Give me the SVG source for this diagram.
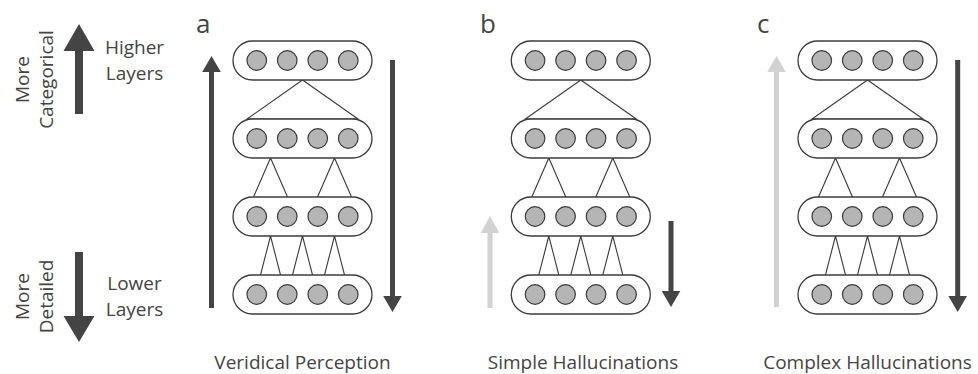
<svg xmlns="http://www.w3.org/2000/svg" width="978" height="374" viewBox="0 0 978 374">
  <defs>
    <style>
      .t { font-family: "Open Sans", "Liberation Sans", sans-serif; font-size: 19px; fill: #444; }
      .lbl { font-family: "Open Sans", "Liberation Sans", sans-serif; font-size: 26px; fill: #444; }
      .pill { fill: #fff; stroke: #3c3c3c; stroke-width: 1.3; }
      .unit { fill: #b5b5b5; stroke: #3c3c3c; stroke-width: 1.2; }
      .link { fill: none; stroke: #3c3c3c; stroke-width: 1.1; stroke-linejoin: miter; }
      .dark { fill: #444; }
      .light { fill: #d2d2d2; }
    </style>
    <g id="layer">
      <rect class="pill" x="0" y="0" width="139" height="39" rx="19.5" ry="19.5"/>
      <circle class="unit" cx="23.75" cy="19.5" r="9.8"/>
      <circle class="unit" cx="54.25" cy="19.5" r="9.8"/>
      <circle class="unit" cx="84.75" cy="19.5" r="9.8"/>
      <circle class="unit" cx="115.25" cy="19.5" r="9.8"/>
    </g>
    <g id="links">
      <polygon class="link" points="69.5,39 14,78 125,78"/>
      <polyline class="link" points="20.5,156 37.5,117 54.5,156"/>
      <polyline class="link" points="84.5,156 101.5,117 118.5,156"/>
      <polyline class="link" points="27.5,234 37.5,195 47.5,234"/>
      <polyline class="link" points="59.5,234 69.5,195 79.5,234"/>
      <polyline class="link" points="91.5,234 101.5,195 111.5,234"/>
    </g>
  </defs>

  <!-- Legend -->
  <g id="legend">
    <polygon class="dark" points="79,24 94.5,51 83,51 83,114 75,114 75,51 63.5,51"/>
    <polygon class="dark" points="79,342 94.5,316 83,316 83,252 75,252 75,316 63.5,316"/>
    <text class="t" x="134.5" y="53.5" text-anchor="middle">Higher</text>
    <text class="t" x="134.5" y="80" text-anchor="middle">Layers</text>
    <text class="t" x="134.5" y="290" text-anchor="middle">Lower</text>
    <text class="t" x="134.5" y="315.5" text-anchor="middle">Layers</text>
    <text class="t" transform="translate(29,79.5) rotate(-90)" text-anchor="middle">More</text>
    <text class="t" transform="translate(53,79.5) rotate(-90)" text-anchor="middle">Categorical</text>
    <text class="t" transform="translate(29,296.5) rotate(-90)" text-anchor="middle">More</text>
    <text class="t" transform="translate(53,296.5) rotate(-90)" text-anchor="middle">Detailed</text>
  </g>

  <!-- Panel a -->
  <g id="panel-a">
    <text class="lbl" x="196" y="33">a</text>
    <g id="a-connectors"><use href="#links" x="233" y="41"/></g>
    <g id="a-layer4"><use href="#layer" x="233" y="41"/></g>
    <g id="a-layer3"><use href="#layer" x="233" y="119"/></g>
    <g id="a-layer2"><use href="#layer" x="233" y="197"/></g>
    <g id="a-layer1"><use href="#layer" x="233" y="275"/></g>
    <polygon class="dark" points="211.5,56 220.8,72 214,72 214,308 209,308 209,72 202.2,72"/>
    <polygon class="dark" points="392.5,312 401.8,296 395,296 395,60 390,60 390,296 383.2,296"/>
    <text class="t" x="302.5" y="369" text-anchor="middle">Veridical Perception</text>
  </g>

  <!-- Panel b -->
  <g id="panel-b">
    <text class="lbl" x="480" y="33">b</text>
    <g id="b-connectors"><use href="#links" x="511.3" y="41"/></g>
    <g id="b-layer4"><use href="#layer" x="511.3" y="41"/></g>
    <g id="b-layer3"><use href="#layer" x="511.3" y="119"/></g>
    <g id="b-layer2"><use href="#layer" x="511.3" y="197"/></g>
    <g id="b-layer1"><use href="#layer" x="511.3" y="275"/></g>
    <polygon class="light" points="490,216 499.3,233 492.5,233 492.5,308 487.5,308 487.5,233 480.7,233"/>
    <polygon class="dark" points="671,307 680.3,291 673.5,291 673.5,221 668.5,221 668.5,291 661.7,291"/>
    <text class="t" x="583" y="368.5" text-anchor="middle">Simple Hallucinations</text>
  </g>

  <!-- Panel c -->
  <g id="panel-c">
    <text class="lbl" x="757" y="33">c</text>
    <g id="c-connectors"><use href="#links" x="798" y="41"/></g>
    <g id="c-layer4"><use href="#layer" x="798" y="41"/></g>
    <g id="c-layer3"><use href="#layer" x="798" y="119"/></g>
    <g id="c-layer2"><use href="#layer" x="798" y="197"/></g>
    <g id="c-layer1"><use href="#layer" x="798" y="275"/></g>
    <polygon class="light" points="776.5,56 785.8,72 779,72 779,307 774,307 774,72 767.2,72"/>
    <polygon class="dark" points="957.7,312 967,296 960.2,296 960.2,60 955.2,60 955.2,296 948.4,296"/>
    <text class="t" x="867.5" y="368.5" text-anchor="middle">Complex Hallucinations</text>
  </g>
</svg>
